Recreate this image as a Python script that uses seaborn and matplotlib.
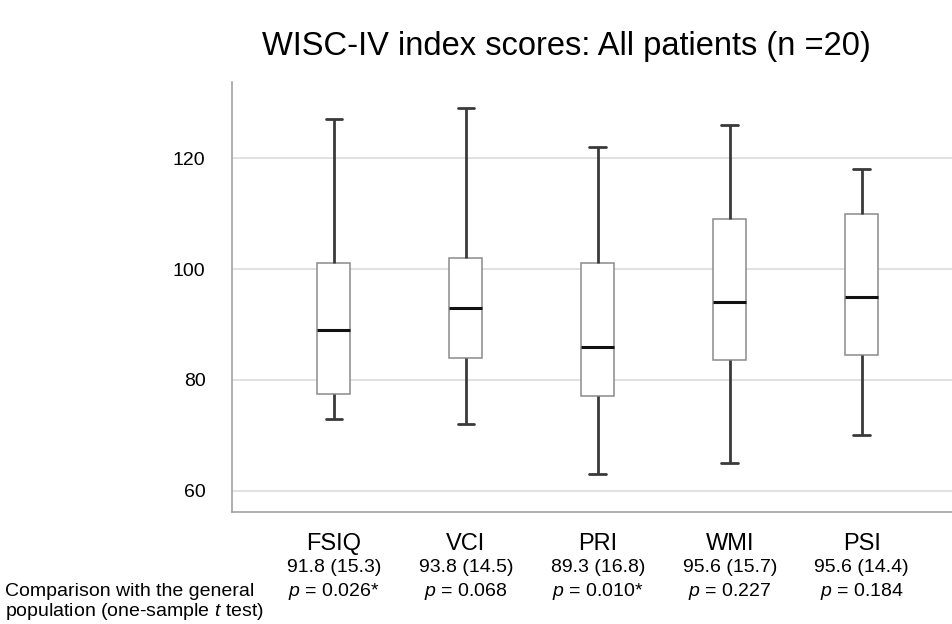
import numpy as np
import pandas as pd
import matplotlib
matplotlib.use("Agg")
import matplotlib.pyplot as plt
import matplotlib.transforms as mtransforms
import seaborn as sns

# ---- data ----
indices = ["FSIQ", "VCI", "PRI", "WMI", "PSI"]
whisker_low = [73.0, 72.0, 63.0, 65.0, 70.0]
q1_values = [77.5, 84.0, 77.0, 83.5, 84.5]
medians = [89.0, 93.0, 86.0, 94.0, 95.0]
q3_values = [101.0, 102.0, 101.0, 109.0, 110.0]
whisker_high = [127.0, 129.0, 122.0, 126.0, 118.0]
mean_sd = ["91.8 (15.3)", "93.8 (14.5)", "89.3 (16.8)", "95.6 (15.7)", "95.6 (14.4)"]
p_values = ["0.026*", "0.068", "0.010*", "0.227", "0.184"]
y_ticks = [60, 80, 100, 120]

rows = []
for i, name in enumerate(indices):
    for v in (whisker_low[i], q1_values[i], medians[i], q3_values[i], whisker_high[i]):
        rows.append({"index": name, "score": v})
df = pd.DataFrame(rows)

sns.set_theme(style="white")
plt.rcParams["font.family"] = ["Liberation Sans", "DejaVu Sans"]
plt.rcParams["mathtext.fontset"] = "custom"
plt.rcParams["mathtext.rm"] = "Liberation Sans"
plt.rcParams["mathtext.it"] = "Liberation Sans:italic"

fig = plt.figure(figsize=(9.52, 6.24), dpi=100)
ax = fig.add_axes([232 / 952, 1 - 512.3 / 624, 1 - 232 / 952, (512.3 - 81.7) / 624])

sns.boxplot(
    data=df, x="index", y="score", order=indices, ax=ax,
    width=0.25, whis=(0, 100), color="white", fill=True,
    boxprops=dict(facecolor="white", edgecolor="#8a8a8a", linewidth=1.1),
    whiskerprops=dict(color="#3a3a3a", linewidth=2.0),
    capprops=dict(color="#3a3a3a", linewidth=2.0),
    medianprops=dict(color="#111111", linewidth=2.2),
    showfliers=False,
)

ax.set_xlim(-0.771, 4.684)
ax.set_ylim(56.1, 133.8)
ax.set_yticks(y_ticks)
ax.set_yticklabels([str(t) for t in y_ticks], fontsize=14, color="black")
ax.tick_params(axis="y", length=0, pad=19)
ax.set_xticks([])
ax.set_xlabel("")
ax.set_ylabel("")
ax.yaxis.grid(True, color="#d9d9d9", linewidth=1.1)
ax.set_axisbelow(True)
for side in ("top", "right"):
    ax.spines[side].set_visible(False)
for side in ("left", "bottom"):
    ax.spines[side].set_color("#9a9a9a")
    ax.spines[side].set_linewidth(1.1)

trans = mtransforms.blended_transform_factory(ax.transData, fig.transFigure)
for i, name in enumerate(indices):
    ax.text(i, 1 - 544 / 624, name, transform=trans, ha="center", va="center",
            fontsize=17, color="black")
    ax.text(i, 1 - 567 / 624, mean_sd[i], transform=trans, ha="center", va="center",
            fontsize=14, color="black")
    ax.text(i, 1 - 591 / 624, "$p$ = " + p_values[i], transform=trans, ha="center",
            va="center", fontsize=14, color="black")

fig.text(5 / 952, 1 - 591 / 624, "Comparison with the general", ha="left", va="center",
         fontsize=14, color="black")
fig.text(5 / 952, 1 - 612 / 624, "population (one-sample $t$ test)", ha="left",
         va="center", fontsize=14, color="black")

fig.text(0.595, 1 - 46 / 624, "WISC-IV index scores: All patients (n =20)",
         ha="center", va="center", fontsize=23.5, color="black")

fig.savefig("out.png", dpi=100, facecolor="white")
